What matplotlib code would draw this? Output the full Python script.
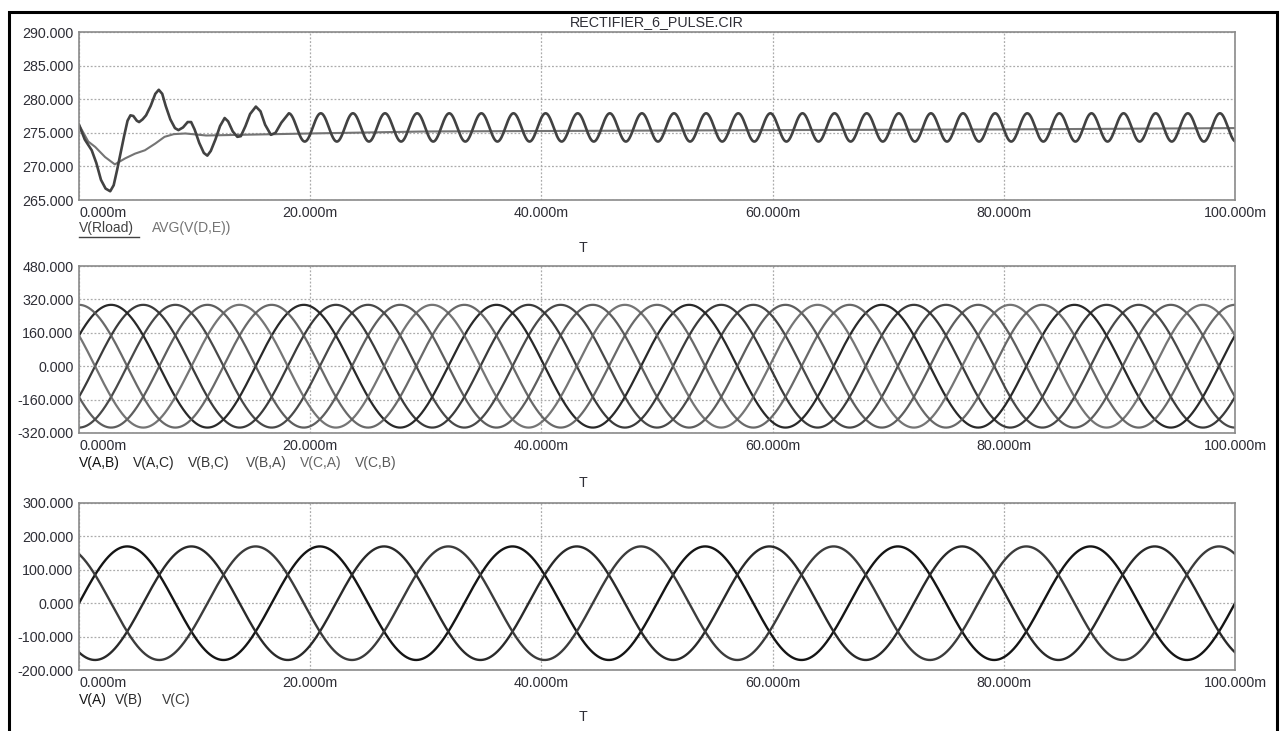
import numpy as np
import matplotlib
matplotlib.use("Agg")
import matplotlib.pyplot as plt
from matplotlib.lines import Line2D
from matplotlib.patches import Rectangle

# ---------------- data ----------------
TITLE = "RECTIFIER_6_PULSE.CIR"
T_END_MS = 100.0
X_TICKS_MS = [0, 20, 40, 60, 80, 100]
X_TICK_LABELS = ["0.000m", "20.000m", "40.000m", "60.000m", "80.000m", "100.000m"]

# supply
LINE_FREQ_HZ = 60.0
PHASE_PEAK_V = 170.0
LINE_LINE_PEAK_V = 294.0

# output voltage V(Rload): start-up samples (ms, V)
rload_t = [0.0, 0.5, 1.1, 1.5, 1.9, 2.3, 2.7, 3.0, 3.3, 3.6, 3.9, 4.2, 4.45,
           4.7, 5.0, 5.2, 5.5, 5.8, 6.2, 6.6, 6.9, 7.2, 7.5, 7.9, 8.3, 8.6,
           9.0, 9.4, 9.7, 10.0, 10.4, 10.8, 11.1, 11.4, 11.8, 12.2, 12.6,
           12.9, 13.3, 13.7, 14.0, 14.4, 14.8, 15.3, 15.7, 16.1, 16.6, 17.0,
           17.5, 18.14]
rload_v = [276.2, 274.0, 272.4, 270.5, 268.0, 266.7, 266.3, 267.2, 269.5,
           272.0, 274.5, 276.8, 277.6, 277.5, 276.8, 276.6, 277.0, 277.6,
           279.0, 280.8, 281.4, 280.8, 279.0, 277.0, 275.7, 275.4, 275.8,
           276.6, 276.6, 275.5, 273.5, 272.0, 271.6, 272.3, 274.0, 276.0,
           277.2, 276.7, 275.2, 274.4, 274.5, 276.0, 277.8, 278.9, 278.2,
           276.2, 274.7, 275.0, 276.5, 277.9]
# steady-state six-pulse ripple on V(Rload)
RIPPLE_MEAN_V = 275.8
RIPPLE_AMP_V = 2.1
RIPPLE_FREQ_HZ = 360.0
RIPPLE_PEAK_MS = 18.14

# running average AVG(V(D,E)) (ms, V)
avg_t = [0.0, 0.8, 1.4, 2.25, 3.1, 4.0, 4.85, 5.7, 6.6, 7.4, 8.2, 9.2, 11.0,
         14.0, 20.0, 30.0, 45.0, 60.0, 80.0, 100.0]
avg_v = [276.2, 273.7, 272.9, 271.4, 270.3, 271.2, 271.9, 272.4, 273.4,
         274.4, 274.8, 274.9, 274.6, 274.7, 274.9, 275.2, 275.3, 275.4,
         275.5, 275.7]

# line-to-line voltages
ll_names = ["V(A,B)", "V(A,C)", "V(B,C)", "V(B,A)", "V(C,A)", "V(C,B)"]
ll_shift_deg = [30, -30, -90, -150, 150, 90]

# phase voltages
ph_names = ["V(A)", "V(B)", "V(C)"]
ph_shift_deg = [0, -120, 120]

top_ticks = [265, 270, 275, 280, 285, 290]
mid_ticks = [-320, -160, 0, 160, 320, 480]
bot_ticks = [-200, -100, 0, 100, 200, 300]

# ---------------- style ----------------
W, H = 1286, 731
FONT = ["Liberation Sans", "DejaVu Sans"]
plt.rcParams["font.family"] = FONT
TXT = "#2e2e36"
FS = 10.3

ll_colors = ["#111111", "#262626", "#353535", "#4c4c4c", "#666666", "#595959"]
ph_colors = ["#151515", "#2a2a2a", "#3c3c3c"]
rload_color = "#424242"
avg_color = "#747474"

fig = plt.figure(figsize=(W / 100, H / 100), dpi=100)
fig.patch.set_facecolor("white")


def fx(x):
    return x / W


def fy(y):
    return 1 - y / H


def make_axes(top, bottom, ticks, fmt="{:.3f}"):
    ax = fig.add_axes([fx(79), fy(bottom), (1235 - 79) / W, (bottom - top) / H])
    ax.set_xlim(0, T_END_MS)
    ax.set_ylim(ticks[0], ticks[-1])
    ax.set_yticks(ticks)
    ax.set_yticklabels([fmt.format(v) for v in ticks])
    ax.set_xticks(X_TICKS_MS)
    ax.set_xticklabels(X_TICK_LABELS)
    labs = ax.get_xticklabels()
    labs[0].set_horizontalalignment("left")
    ax.tick_params(length=0, pad=4, labelsize=FS, colors=TXT)
    for s in ax.spines.values():
        s.set_color("#8a8a8a")
        s.set_linewidth(1.2)
    ax.grid(True, color="#ababab", linestyle=(0, (1.5, 1.5)), linewidth=0.9)
    ax.set_axisbelow(True)
    return ax


t = np.linspace(0, T_END_MS, 6001)
w = 2 * np.pi * LINE_FREQ_HZ / 1000.0

# ---- top: output voltage ----
ax1 = make_axes(32, 200, top_ticks)
steady_t = t[t > RIPPLE_PEAK_MS]
steady_v = RIPPLE_MEAN_V + RIPPLE_AMP_V * np.cos(
    2 * np.pi * RIPPLE_FREQ_HZ / 1000.0 * (steady_t - RIPPLE_PEAK_MS))
out_t = np.concatenate([rload_t, steady_t])
out_v = np.concatenate([rload_v, steady_v])
ax1.plot(avg_t, avg_v, color=avg_color, lw=1.5, solid_capstyle="round")
ax1.plot(out_t, out_v, color=rload_color, lw=1.9, solid_joinstyle="round")

# ---- middle: line-to-line voltages ----
ax2 = make_axes(266, 433, mid_ticks)
for name, sh, c in zip(ll_names, ll_shift_deg, ll_colors):
    ax2.plot(t, LINE_LINE_PEAK_V * np.sin(w * t + np.deg2rad(sh)), color=c,
             lw=1.6, alpha=0.9)

# ---- bottom: phase voltages ----
ax3 = make_axes(503, 670, bot_ticks)
for name, sh, c in zip(ph_names, ph_shift_deg, ph_colors):
    ax3.plot(t, PHASE_PEAK_V * np.sin(w * t + np.deg2rad(sh)), color=c, lw=1.7)

# ---- titles, legends, axis names ----
fig.text(fx(657), fy(22), TITLE, ha="center", va="center", fontsize=FS, color=TXT)

legend_rows = [
    (228, [("V(Rload)", 79, rload_color), ("AVG(V(D,E))", 152, avg_color)]),
    (463, [(n, x, c) for n, x, c in zip(ll_names, [79, 133, 188, 246, 300, 355], ll_colors)]),
    (700, [(n, x, c) for n, x, c in zip(ph_names, [79, 115, 162], ph_colors)]),
]
for y, items in legend_rows:
    for name, x, c in items:
        fig.text(fx(x), fy(y), name, ha="left", va="center", fontsize=FS - 0.3, color=c)

# underline marks the selected trace
fig.add_artist(Line2D([fx(79), fx(139)], [fy(237), fy(237)], color=rload_color, lw=1.0))

for y in (248, 483, 717):
    fig.text(fx(583), fy(y), "T", ha="center", va="center", fontsize=FS, color=TXT)

# outer window frame
fig.add_artist(Rectangle((fx(8.5), fy(800)), (1276.5 - 8.5) / W, (800 - 12) / H,
                         transform=fig.transFigure, fill=False, edgecolor="black",
                         lw=2.2, clip_on=False))

fig.savefig("out.png", dpi=100, facecolor="white")
